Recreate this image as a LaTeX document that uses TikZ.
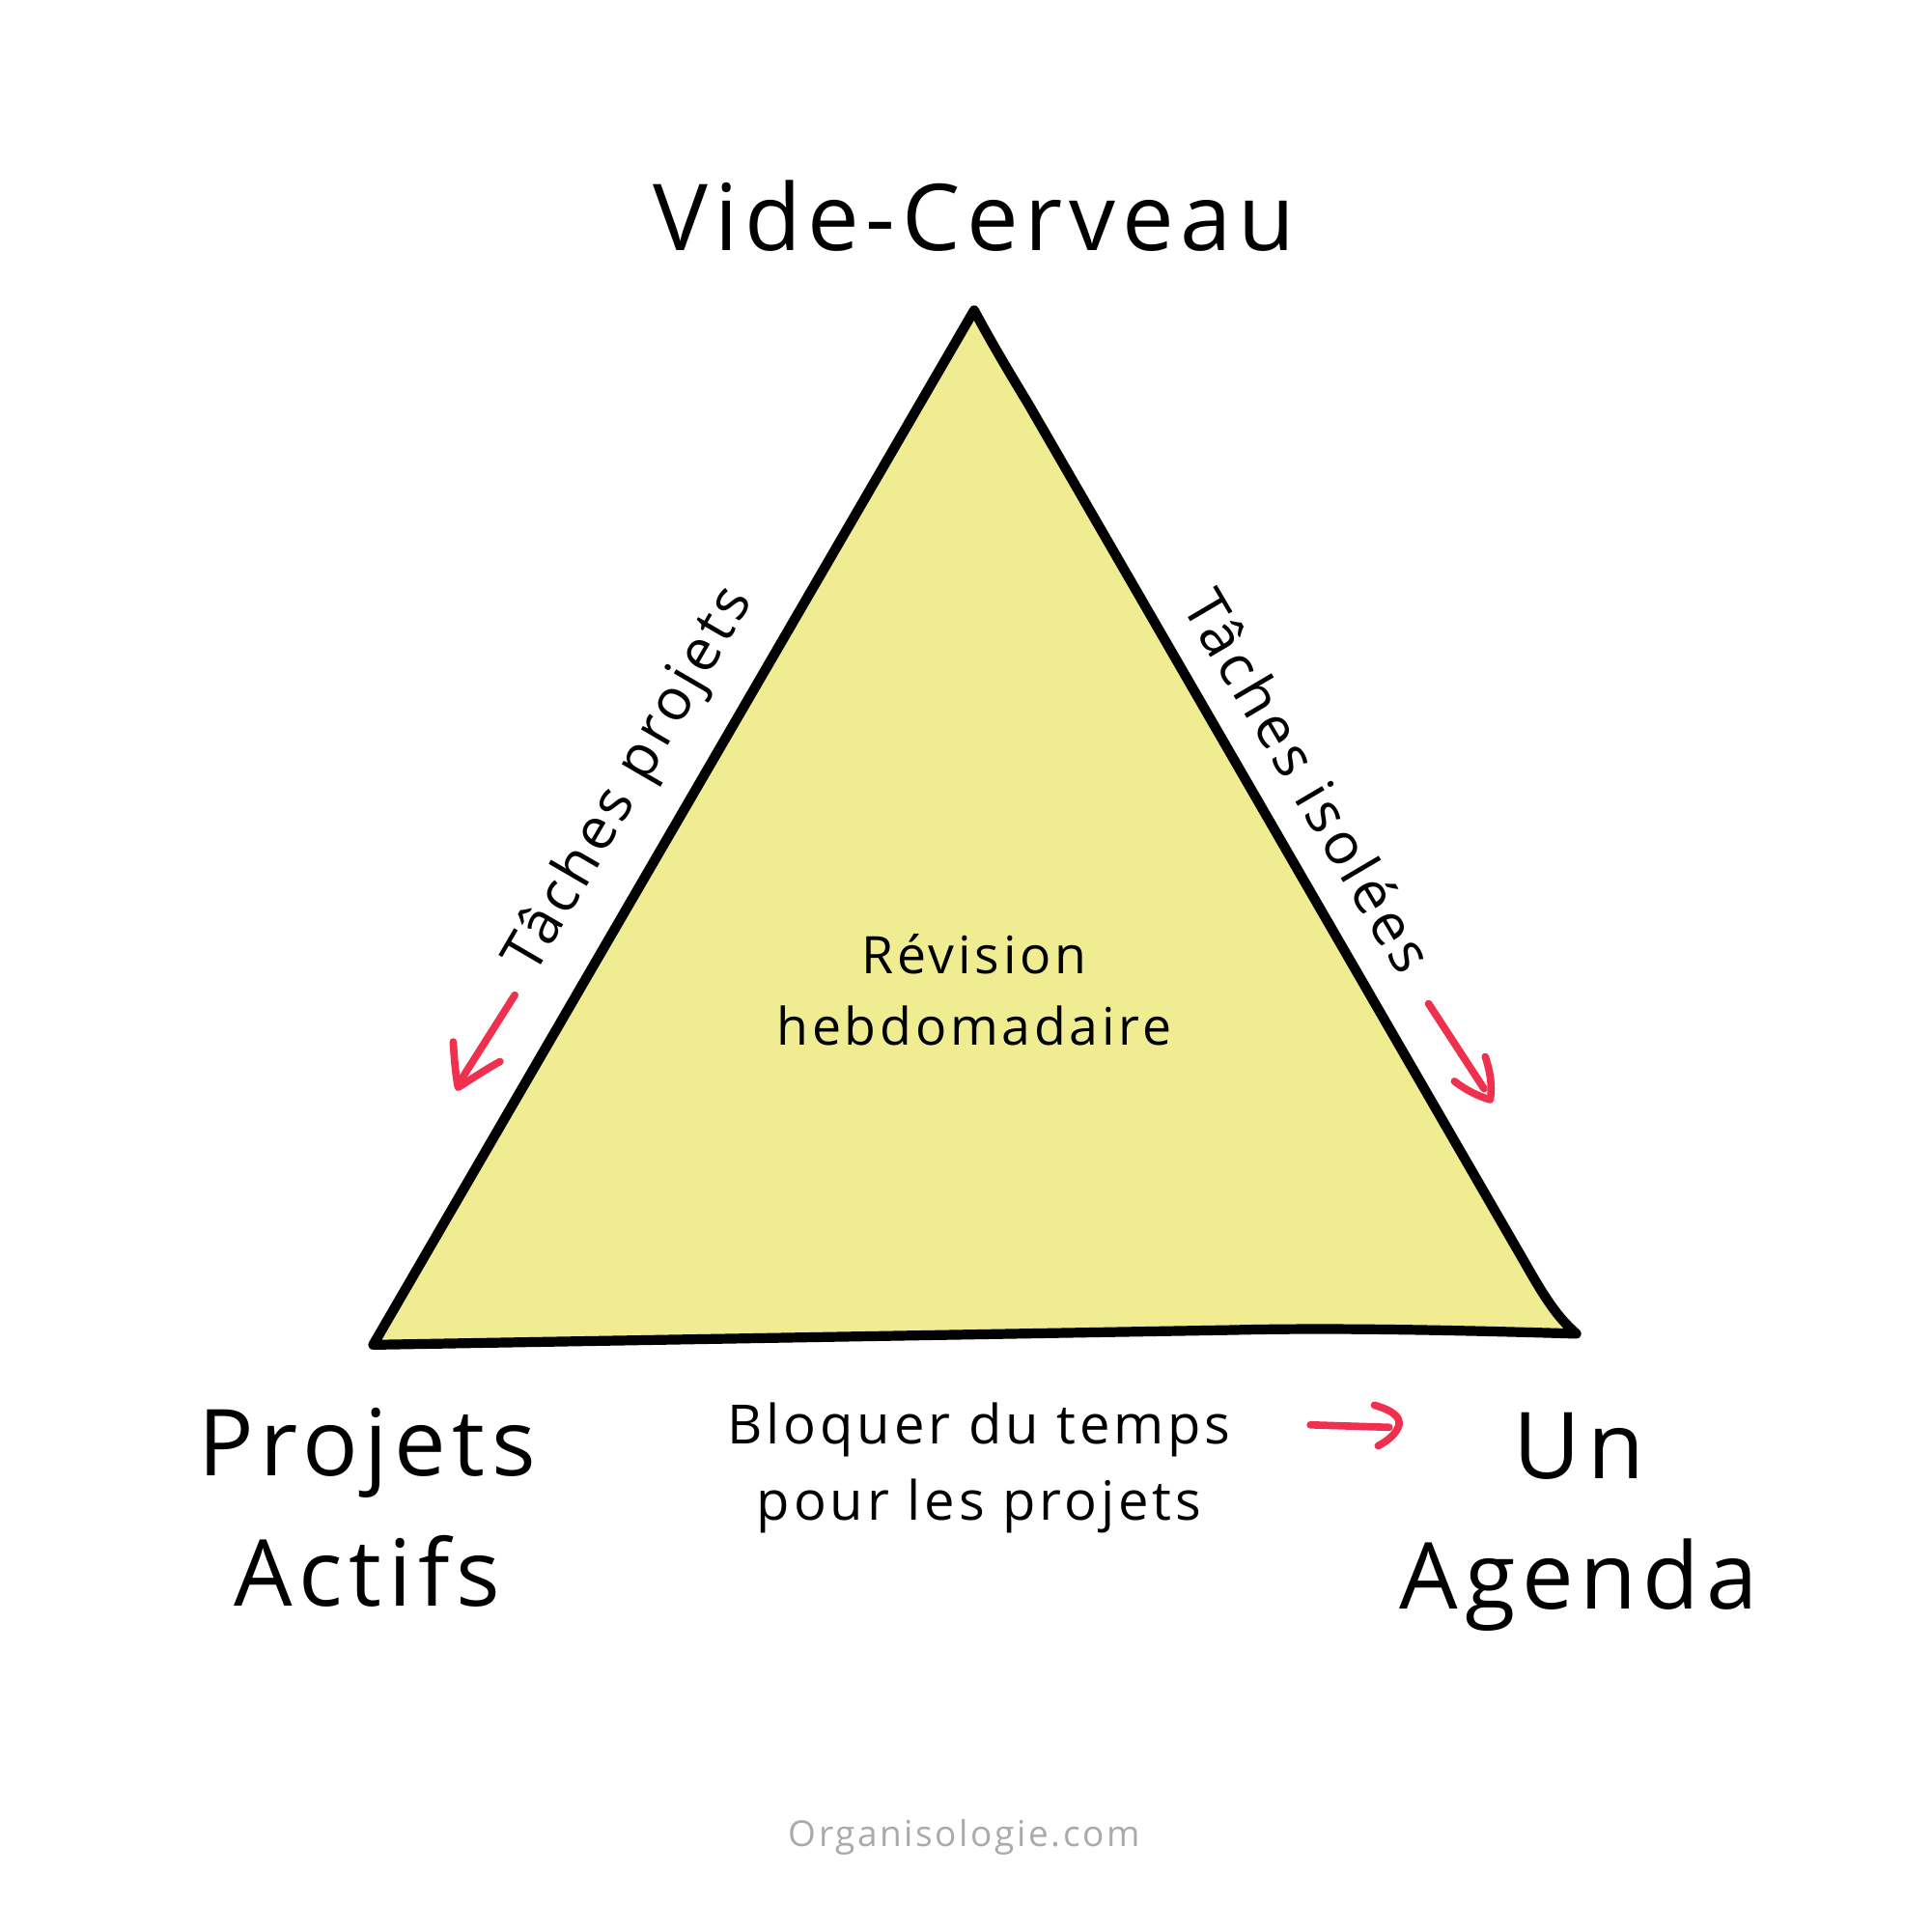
\documentclass[tikz,border=0pt]{standalone}
\usepackage{fontspec}
\newfontfamily\hand[LetterSpace=7]{Open Sans}
\definecolor{trifill}{HTML}{F0EC91}
\definecolor{arrowred}{HTML}{F0304F}
\definecolor{webgray}{HTML}{AAAAAA}
\tikzset{
  big/.style={font=\hand\fontsize{75}{100}\selectfont, align=center, inner sep=0pt},
  mid/.style={font=\hand\fontsize{47}{62}\selectfont, align=center, inner sep=0pt},
  small/.style={font=\hand\fontsize{42}{58}\selectfont, align=center, inner sep=0pt},
  redarrow/.style={draw=arrowred, line width=6, line cap=round, line join=round},
  edge/.style={draw=black, line width=8, line cap=round, line join=round}
}
\begin{document}
\begin{tikzpicture}[x=1pt,y=-1pt]
\useasboundingbox[fill=white] (0,0) rectangle (1568,1568);
% corners
\coordinate (A) at (791,252);
\coordinate (L) at (303,1092);
\coordinate (R) at (1280,1083);
% triangle
\path[edge, fill=trifill] (L) -- (A) .. controls (805,278) and (818,300) .. (835,328)
  -- (1238,1025) .. controls (1255,1055) and (1265,1070) .. (R)
  .. controls (1180,1080) and (1080,1078) .. (1000,1080) -- (L) -- cycle;
% labels
\node[big] (top) at (791,175) {Vide-Cerveau};
\node[big] (pa) at (298,1224) {Projets\\[6pt]Actifs};
\node[big] (ag) at (1282,1236) {Un\\[6pt]Agenda};
\node[small] (rev) at (791,804) {Révision\\hebdomadaire};
\node[font=\hand\fontsize{44}{62}\selectfont, align=center, inner sep=0pt] (bl) at (795,1192) {Bloquer du temps\\pour les projets};
\node[mid, rotate=59.8] (tp) at (512,634) {Tâches projets};
\node[mid, rotate=-59.5] (ti) at (1063,634) {Tâches isolées};
\node[font=\hand\fontsize{29}{34}\selectfont, text=webgray, inner sep=0pt] (web) at (783,1492) {Organisologie.com};
% red arrows
\coordinate (l1) at (418,808); \coordinate (l2) at (373,879);
\draw[redarrow] (l1) -- (l2);
\draw[redarrow] (368,846) .. controls (369,862) and (370,873) .. (372,883) .. controls (383,876) and (395,868) .. (406,862);
\coordinate (r1) at (1160,815); \coordinate (r2) at (1205,884);
\draw[redarrow] (r1) -- (r2);
\draw[redarrow] (1206,858) .. controls (1210,870) and (1212,882) .. (1210,893) .. controls (1200,890) and (1190,885) .. (1181,878);
\coordinate (b1) at (1064,1157); \coordinate (b2) at (1128,1159);
\draw[redarrow] (b1) -- (b2);
\draw[redarrow] (1116,1141) .. controls (1130,1145) and (1137,1150) .. (1136,1157) .. controls (1134,1164) and (1127,1170) .. (1119,1174);
\end{tikzpicture}
\end{document}
